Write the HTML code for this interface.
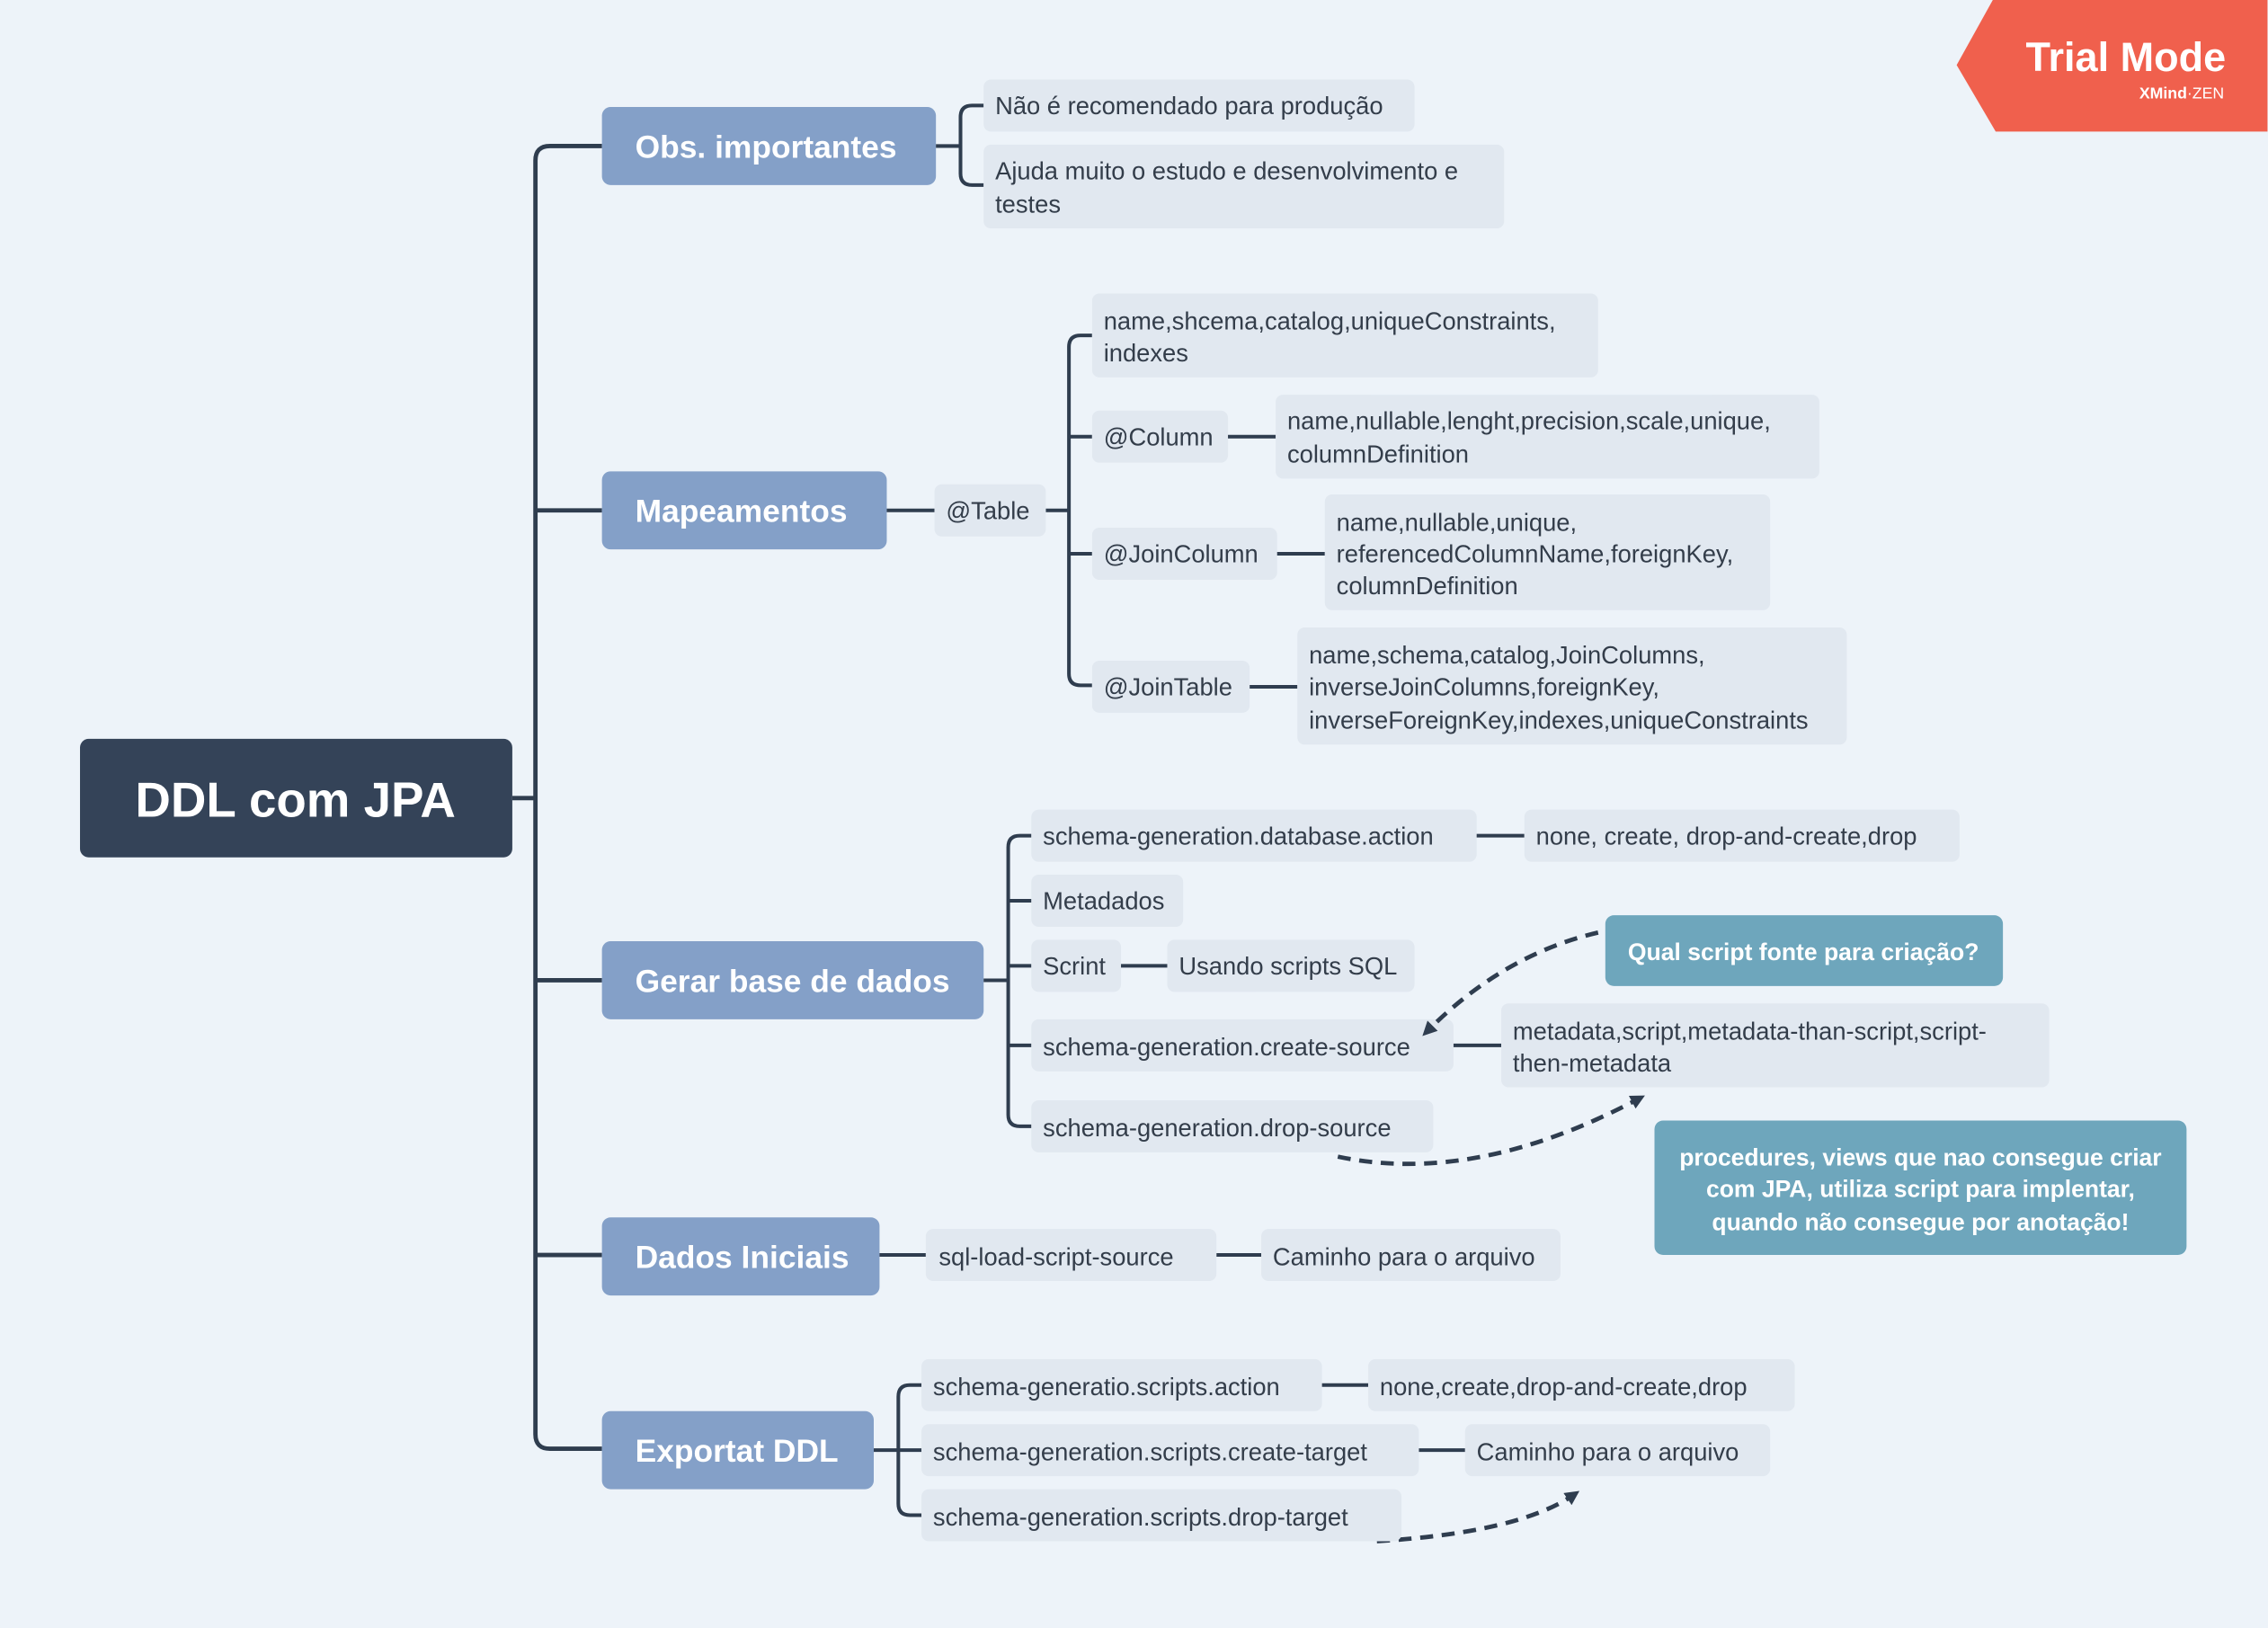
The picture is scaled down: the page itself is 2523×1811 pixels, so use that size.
<!DOCTYPE html>
<html><head><meta charset="utf-8"><style>
html,body{margin:0;padding:0;background:#edf3f9;}
svg{display:block;}
text{font-family:"Liberation Sans",sans-serif;}
.l{fill:#e1e8f0;}
.t{fill:#333d4a;font-size:17px;}
.b{fill:#84a0c8;}
.bt{fill:#fff;font-size:22px;font-weight:bold;}
.c{fill:none;stroke:#2f3d4f;stroke-width:2.5;}
.d{fill:none;stroke:#2f3d4f;stroke-width:3;stroke-dasharray:9 6;}
.ct{fill:#fff;font-size:16.5px;font-weight:bold;}
</style></head><body>
<svg width="2523" height="1811" viewBox="0 0 1568 1126" xmlns="http://www.w3.org/2000/svg">
<rect width="1568" height="1126" fill="#edf3f9"/>
<defs><marker id="ah" markerWidth="10" markerHeight="10" refX="5" refY="5" orient="auto" markerUnits="userSpaceOnUse" viewBox="0 0 10 10"><path d="M0,0 L10,5 L0,10 z" fill="#2f3d4f"/></marker></defs>

<!-- trunk -->
<path class="c" style="stroke-width:3" d="M354,552 L370,552 M416,101 L380,101 Q370,101 370,111 L370,992 Q370,1002 380,1002 L416,1002 M370,353 L416,353 M370,678 L416,678 M370,868 L416,868"/>
<rect x="55" y="511" width="299" height="82" rx="6" fill="#344358"/>
<text x="204" y="565" text-anchor="middle" fill="#fff" font-size="34" font-weight="bold">DDL com JPA</text>

<!-- Obs -->
<rect class="b" x="416" y="74" width="231" height="54" rx="6"/>
<text class="bt" x="439" y="109">Obs. importantes</text>
<path class="c" d="M647,101 L664,101 M680,73 L672,73 Q664,73 664,81 L664,120 Q664,128 672,128 L680,128"/>
<rect class="l" x="680" y="55" width="298" height="36" rx="5"/>
<text class="t" x="688" y="79">Não é recomendado para produção</text>
<rect class="l" x="680" y="100" width="360" height="58" rx="5"/>
<text class="t" x="688" y="124">Ajuda muito o estudo e desenvolvimento e</text>
<text class="t" x="688" y="147">testes</text>

<!-- Mapeamentos -->
<rect class="b" x="416" y="326" width="197" height="54" rx="6"/>
<text class="bt" x="439" y="361">Mapeamentos</text>
<path class="c" d="M613,353 L646,353 M723,353 L739,353 M755,232 L747,232 Q739,232 739,240 L739,466 Q739,474 747,474 L755,474 M739,302 L755,302 M739,383 L755,383"/>
<rect class="l" x="646" y="335" width="77" height="36" rx="5"/>
<text class="t" x="654" y="359">@Table</text>
<rect class="l" x="755" y="203" width="350" height="58" rx="5"/>
<text class="t" x="763" y="228">name,shcema,catalog,uniqueConstraints,</text>
<text class="t" x="763" y="250">indexes</text>
<rect class="l" x="755" y="284" width="94" height="36" rx="5"/>
<text class="t" x="763" y="308">@Column</text>
<path class="c" d="M849,302 L882,302"/>
<rect class="l" x="882" y="273" width="376" height="58" rx="5"/>
<text class="t" x="890" y="297">name,nullable,lenght,precision,scale,unique,</text>
<text class="t" x="890" y="320">columnDefinition</text>
<rect class="l" x="755" y="365" width="128" height="36" rx="5"/>
<text class="t" x="763" y="389">@JoinColumn</text>
<path class="c" d="M883,383 L916,383"/>
<rect class="l" x="916" y="342" width="308" height="80" rx="5"/>
<text class="t" x="924" y="367">name,nullable,unique,</text>
<text class="t" x="924" y="389">referencedColumnName,foreignKey,</text>
<text class="t" x="924" y="411">columnDefinition</text>
<rect class="l" x="755" y="457" width="109" height="36" rx="5"/>
<text class="t" x="763" y="481">@JoinTable</text>
<path class="c" d="M864,475 L897,475"/>
<rect class="l" x="897" y="434" width="380" height="81" rx="5"/>
<text class="t" x="905" y="459">name,schema,catalog,JoinColumns,</text>
<text class="t" x="905" y="481">inverseJoinColumns,foreignKey,</text>
<text class="t" x="905" y="504">inverseForeignKey,indexes,uniqueConstraints</text>

<!-- Gerar -->
<rect class="b" x="416" y="651" width="264" height="54" rx="6"/>
<text class="bt" x="439" y="686">Gerar base de dados</text>
<path class="c" d="M680,678 L697,678 M713,578 L705,578 Q697,578 697,586 L697,771 Q697,779 705,779 L713,779 M697,623 L713,623 M697,668 L713,668 M697,723 L713,723"/>
<rect class="l" x="713" y="560" width="308" height="36" rx="5"/>
<text class="t" x="721" y="584">schema-generation.database.action</text>
<path class="c" d="M1021,578 L1054,578"/>
<rect class="l" x="1054" y="560" width="301" height="36" rx="5"/>
<text class="t" x="1062" y="584">none, create, drop-and-create,drop</text>
<rect class="l" x="713" y="605" width="105" height="36" rx="5"/>
<text class="t" x="721" y="629">Metadados</text>
<rect class="l" x="713" y="650" width="62" height="36" rx="5"/>
<text class="t" x="721" y="674">Scrint</text>
<path class="c" d="M775,668 L807,668"/>
<rect class="l" x="807" y="650" width="171" height="36" rx="5"/>
<text class="t" x="815" y="674">Usando scripts SQL</text>
<rect class="l" x="713" y="705" width="292" height="36" rx="5"/>
<text class="t" x="721" y="730">schema-generation.create-source</text>
<path class="c" d="M1005,723 L1038,723"/>
<rect class="l" x="1038" y="694" width="379" height="58" rx="5"/>
<text class="t" x="1046" y="719">metadata,script,metadata-than-script,script-</text>
<text class="t" x="1046" y="741">then-metadata</text>
<rect class="l" x="713" y="761" width="278" height="36" rx="5"/>
<text class="t" x="721" y="786">schema-generation.drop-source</text>

<rect x="1110" y="633" width="275" height="49" rx="6" fill="#6ea6bc"/>
<text class="ct" x="1247" y="664" text-anchor="middle">Qual script fonte para criação?</text>
<rect x="1144" y="775" width="368" height="93" rx="6" fill="#6ea6bc"/>
<text class="ct" x="1328" y="806" text-anchor="middle">procedures, views que nao consegue criar</text>
<text class="ct" x="1328" y="828" text-anchor="middle">com JPA, utiliza script para implentar,</text>
<text class="ct" x="1328" y="851" text-anchor="middle">quando não consegue por anotação!</text>

<path class="d" d="M1105,645 Q1040,660 987,713" marker-end="url(#ah)"/>
<path class="d" d="M925,800 Q1020,820 1133,760" marker-end="url(#ah)"/>
<path class="d" d="M952,1066 Q1050,1060 1088,1034" marker-end="url(#ah)"/>

<!-- Dados -->
<rect class="b" x="416" y="842" width="192" height="54" rx="6"/>
<text class="bt" x="439" y="877">Dados Iniciais</text>
<path class="c" d="M608,868 L640,868 M841,868 L872,868"/>
<rect class="l" x="640" y="850" width="201" height="36" rx="5"/>
<text class="t" x="649" y="875">sql-load-script-source</text>
<rect class="l" x="872" y="850" width="207" height="36" rx="5"/>
<text class="t" x="880" y="875">Caminho para o arquivo</text>

<!-- Exportat -->
<rect class="b" x="416" y="976" width="188" height="54" rx="6"/>
<text class="bt" x="439" y="1011">Exportat DDL</text>
<path class="c" d="M604,1003 L637,1003 M637,958 L629,958 Q621,958 621,966 L621,1040 Q621,1048 629,1048 L637,1048 M914,958 L946,958 M981,1003 L1013,1003"/>
<rect class="l" x="637" y="940" width="277" height="36" rx="5"/>
<text class="t" x="645" y="965">schema-generatio.scripts.action</text>
<rect class="l" x="946" y="940" width="295" height="36" rx="5"/>
<text class="t" x="954" y="965">none,create,drop-and-create,drop</text>
<rect class="l" x="637" y="985" width="344" height="36" rx="5"/>
<text class="t" x="645" y="1010">schema-generation.scripts.create-target</text>
<rect class="l" x="1013" y="985" width="211" height="36" rx="5"/>
<text class="t" x="1021" y="1010">Caminho  para o arquivo</text>
<rect class="l" x="637" y="1030" width="332" height="36" rx="5"/>
<text class="t" x="645" y="1055">schema-generation.scripts.drop-target</text>

<!-- Trial badge -->
<path d="M1378,0 L1568,0 L1568,91 L1380,91 L1353,45 Z" fill="#f0604d"/>
<text x="1470" y="49" text-anchor="middle" fill="#fff" font-size="28" font-weight="bold">Trial Mode</text>
<text x="1538" y="68" text-anchor="end" fill="#fff" font-size="11"><tspan font-weight="bold">XMind</tspan>·ZEN</text>
</svg>
</body></html>
